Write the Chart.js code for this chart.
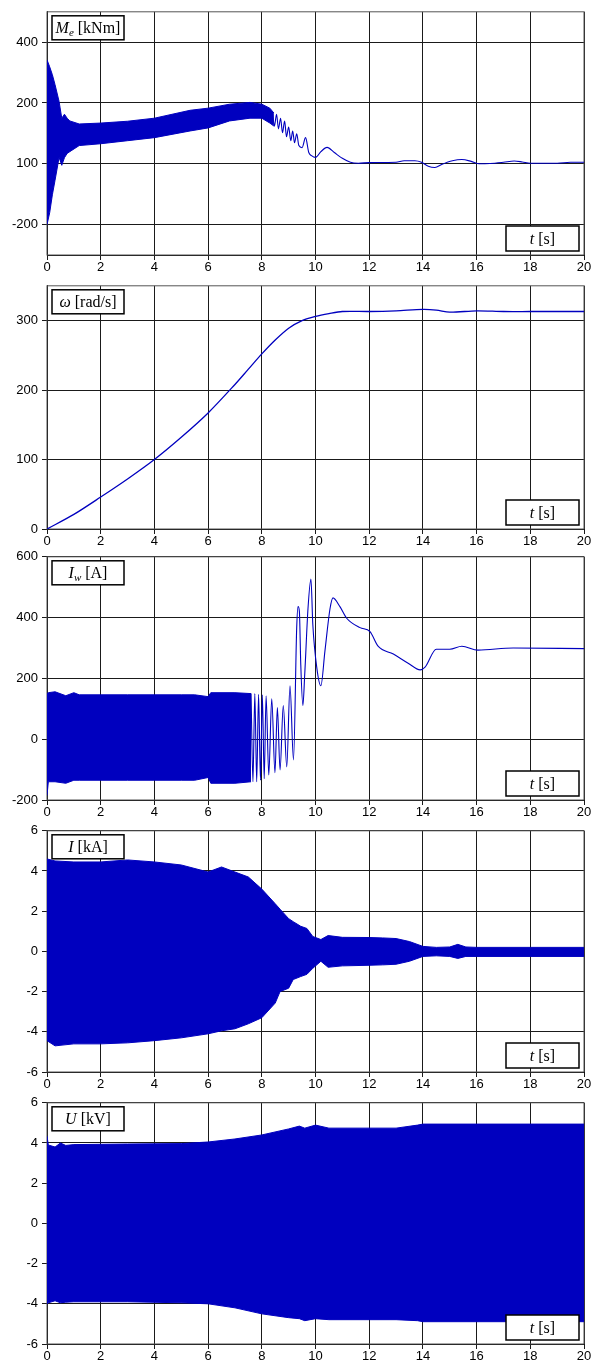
<!DOCTYPE html>
<html><head><meta charset="utf-8">
<script src="https://cdn.jsdelivr.net/npm/chart.js@4.4.1/dist/chart.umd.min.js"></script>
<style>
html,body{margin:0;padding:0;background:#fff;overflow:hidden;width:595px;height:1363px}
#wrap{position:relative;width:595px;height:1363px}
canvas{position:absolute;left:0}
</style></head><body><div id="wrap"></div>
<script>
// ---------- DATA ----------
const timeTicks = [0,2,4,6,8,10,12,14,16,18,20];

// Panel 1: electromagnetic torque Me (axis units as drawn)
const meTickValues = [-200, 0, 200, 400];
const meTickLabels = ['-200', '100', '200', '400'];
const meBandT     = [0, 0.1, 0.2, 0.3, 0.45, 0.55, 0.65, 0.75, 0.85, 1.2, 2, 3, 4, 5.33, 6, 6.8, 7.56, 8.0, 8.3, 8.45];
const meBandUpper = [342, 319, 293, 260, 205, 150, 163, 150, 141, 131, 134, 140, 150, 176, 183, 196, 202, 196, 183, 167];
const meBandLower = [-200, -161, -102, -54, 21, -5, 20, 34, 40, 60, 66, 76, 86, 108, 118, 141, 150, 150, 134, 124];
const meTraceT = [8.40, 8.47, 8.55, 8.62, 8.70, 8.77, 8.85, 8.92, 9.0, 9.08, 9.15, 9.22, 9.3, 9.38, 9.5, 9.63, 9.75, 9.85, 10.0, 10.2, 10.43, 10.7, 11.0, 11.3, 11.6, 12, 13.0, 13.3, 13.7, 13.95, 14.2, 14.45, 14.7, 15.1, 15.45, 15.8, 16.1, 16.5, 17.0, 17.4, 17.7, 18.0, 19.0, 19.5, 20];
const meTraceV = [167, 124, 163, 115, 150, 102, 141, 89, 121, 76, 108, 69, 99, 60, 53, 86, 37, 27, 21, 40, 54, 37, 18, 5, 2, 4, 5, 10, 10, 5, -8, -12, -2, 10, 14, 8, 0, 1, 5, 9, 6, 2, 2, 5, 5];

// Panel 2: angular speed omega [rad/s]
const omegaTickValues = [0, 100, 200, 300];
const omegaT = [0, 1, 2, 3, 4, 5, 6, 7, 7.5, 8, 8.5, 9, 9.5, 10, 10.5, 11, 12, 13, 14, 14.5, 15, 16, 17, 18, 19, 20];
const omegaV = [0, 21, 46, 72, 100, 132, 167, 208, 230, 252, 272, 289, 300, 306, 310, 313, 313, 314, 316, 315, 312, 314, 313, 313, 313, 313];

// Panel 3: excitation current Iw [A]
const iwTickValues = [-200, 0, 200, 400, 600];
const iwBandT     = [0, 0.05, 0.3, 0.7, 1.0, 1.2, 2, 3, 4, 5, 5.5, 6, 6.1, 7, 7.6];
const iwBandUpper = [150, 153, 156, 143, 153, 146, 146, 146, 146, 146, 146, 140, 153, 153, 150];
const iwBandLower = [-185, -140, -140, -145, -135, -135, -135, -135, -135, -135, -135, -126, -145, -145, -140];
const iwTraceT = [7.6, 7.67, 7.74, 7.81, 7.88, 7.95, 8.02, 8.09, 8.16, 8.26, 8.37, 8.49, 8.58, 8.68, 8.8, 8.93, 9.05, 9.18, 9.3, 9.35, 9.4, 9.45, 9.53, 9.6, 9.72, 9.83, 9.9, 10.05, 10.2, 10.35, 10.54, 10.65, 10.91, 11.17, 11.66, 12.03, 12.33, 12.9, 13.45, 13.9, 14.08, 14.5, 15, 15.45, 16.05, 17.36, 20];
const iwTraceV = [150, -140, 150, -140, 148, -135, 146, -130, 143, -118, 133, -110, 104, -101, 111, -91, 176, -68, 367, 436, 420, 250, 111, 215, 429, 527, 377, 234, 176, 289, 429, 465, 436, 397, 367, 354, 306, 280, 250, 228, 237, 296, 296, 306, 293, 300, 298];

// Panel 4: stator current I [kA]
const kTickValues = [-6, -4, -2, 0, 2, 4, 6];
const iBandT     = [0, 0.3, 1, 2, 3, 4, 5, 6, 6.5, 7, 7.5, 8, 8.5, 8.68, 9, 9.17, 9.45, 9.68, 9.9, 10.2, 10.47, 11, 12, 12.5, 13, 13.5, 14, 14.5, 15, 15.3, 15.6, 16, 18, 20];
const iBandUpper = [4.6, 4.5, 4.45, 4.45, 4.55, 4.45, 4.3, 3.95, 4.2, 3.95, 3.7, 3.1, 2.37, 2.1, 1.63, 1.48, 1.25, 1.14, 0.74, 0.59, 0.79, 0.7, 0.69, 0.67, 0.64, 0.49, 0.25, 0.2, 0.22, 0.35, 0.22, 0.2, 0.2, 0.2];
const iBandLower = [-4.44, -4.7, -4.6, -4.6, -4.55, -4.44, -4.3, -4.1, -3.95, -3.85, -3.6, -3.3, -2.57, -2.0, -1.83, -1.4, -1.25, -1.14, -0.84, -0.49, -0.79, -0.72, -0.69, -0.67, -0.64, -0.49, -0.25, -0.22, -0.25, -0.35, -0.25, -0.25, -0.25, -0.25];

// Panel 5: stator voltage U [kV]
const uBandT     = [0, 0.05, 0.3, 0.5, 0.7, 1, 3, 5, 6, 7, 8, 9, 9.4, 9.6, 10, 10.5, 13, 13.8, 14, 20];
const uBandUpper = [4.35, 3.9, 3.8, 4.0, 3.88, 3.92, 3.95, 3.97, 4.05, 4.2, 4.4, 4.7, 4.84, 4.74, 4.89, 4.74, 4.74, 4.89, 4.94, 4.94];
const uBandLower = [-4.0, -3.95, -3.85, -3.95, -3.92, -3.9, -3.9, -3.95, -4.0, -4.2, -4.5, -4.69, -4.74, -4.84, -4.74, -4.79, -4.79, -4.84, -4.89, -4.89];

// ---------- RENDERING ----------
const BLUE = '#0000BF';
const GRID = '#1a1a1a';
function pts(ts, vs){ return ts.map((t,i)=>({x:t, y:vs[i]})); }
function band(ts, up, lo){
  return [
    {data: pts(ts, up), borderColor: BLUE, borderWidth: 1, pointRadius: 0, fill: false, tension: 0},
    {data: pts(ts, lo), borderColor: BLUE, borderWidth: 1, pointRadius: 0, fill: '-1', backgroundColor: BLUE, tension: 0}
  ];
}
function trace(ts, vs, w, smooth){
  const d = {data: pts(ts, vs), borderColor: BLUE, borderWidth: w || 1.2, pointRadius: 0, fill: false};
  if (smooth) d.tension = 0.3; else d.cubicInterpolationMode = 'monotone';
  return d;
}

const framePlugin = {
  id: 'frameBoxes',
  beforeDatasetsDraw(chart){
    const {ctx, chartArea: a} = chart;
    ctx.save();
    ctx.strokeStyle = '#555';
    ctx.lineWidth = 1;
    ctx.strokeRect(a.left, a.top, a.right - a.left, a.bottom - a.top);
    ctx.restore();
  },
  afterDraw(chart, args, opts){
    const {ctx, chartArea: a} = chart;
    drawBox(ctx, a.left + 5, a.top + 4, 72, 24, opts.parts);
    drawBox(ctx, a.right - 78, a.bottom - 29, 73, 25, [{t:'t', i:1}, {t:' [s]'}]);
  }
};
function fontFor(p){ return (p.i ? 'italic ' : '') + (p.s ? '11px' : '16px') + ' "Liberation Serif", "Times New Roman", serif'; }
function drawBox(ctx, x, y, w, h, parts){
  ctx.save();
  ctx.fillStyle = '#fff';
  ctx.fillRect(x, y, w, h);
  ctx.strokeStyle = '#000';
  ctx.lineWidth = 1.5;
  ctx.strokeRect(x, y, w, h);
  let total = 0;
  parts.forEach(p => { ctx.font = fontFor(p); total += ctx.measureText(p.t).width; });
  let cx = x + (w - total) / 2;
  const base = y + h / 2 + 5;
  ctx.fillStyle = '#000';
  ctx.textBaseline = 'alphabetic';
  parts.forEach(p => {
    ctx.font = fontFor(p);
    ctx.fillText(p.t, cx, base + (p.s ? 3 : 0));
    cx += ctx.measureText(p.t).width;
  });
  ctx.restore();
}

const panels = [
  {top: 0,    h: 280, min: -300, max: 500, ticks: meTickValues, labels: meTickLabels,
   datasets: [...band(meBandT, meBandUpper, meBandLower), trace(meTraceT, meTraceV, 1.1)],
   parts: [{t:'M', i:1}, {t:'e', i:1, s:1}, {t:' [kNm]'}]},
  {top: 274,  h: 280, min: 0, max: 350, ticks: omegaTickValues,
   datasets: [trace(omegaT, omegaV, 1.3, true)],
   parts: [{t:'ω', i:1}, {t:' [rad/s]'}]},
  {top: 545,  h: 280, min: -200, max: 600, ticks: iwTickValues,
   datasets: [...band(iwBandT, iwBandUpper, iwBandLower), trace(iwTraceT, iwTraceV, 1.1)],
   parts: [{t:'I', i:1}, {t:'w', i:1, s:1}, {t:' [A]'}]},
  {top: 819,  h: 278, min: -6, max: 6, ticks: kTickValues,
   datasets: band(iBandT, iBandUpper, iBandLower),
   parts: [{t:'I', i:1}, {t:' [kA]'}]},
  {top: 1091, h: 278, min: -6, max: 6, ticks: kTickValues,
   datasets: band(uBandT, uBandUpper, uBandLower),
   parts: [{t:'U', i:1}, {t:' [kV]'}]}
];

const wrap = document.getElementById('wrap');
const tickFont = {family: '"Liberation Sans", Arial, sans-serif', size: 13};
panels.forEach(p => {
  const c = document.createElement('canvas');
  c.width = 595; c.height = p.h;
  c.style.top = p.top + 'px';
  c.style.width = '595px'; c.style.height = p.h + 'px';
  wrap.appendChild(c);
  new Chart(c, {
    type: 'line',
    data: {datasets: p.datasets},
    options: {
      responsive: false, animation: false, devicePixelRatio: 1,
      layout: {padding: {top: 10, right: 11, left: 0, bottom: 0}},
      plugins: {legend: {display: false}, tooltip: {enabled: false}, frameBoxes: {parts: p.parts}},
      scales: {
        x: {type: 'linear', min: 0, max: 20,
            afterBuildTicks: s => { s.ticks = timeTicks.map(v => ({value: v})); },
            afterFit: s => { s.height = 25; },
            ticks: {color: '#000', font: tickFont, padding: 0, maxRotation: 0, autoSkip: false},
            grid: {color: GRID, lineWidth: 1, tickLength: 5},
            border: {color: '#000', width: 1}},
        y: {type: 'linear', min: p.min, max: p.max,
            afterBuildTicks: s => { s.ticks = p.ticks.map(v => ({value: v})); },
            afterFit: s => { s.width = 47; },
            ticks: {color: '#000', font: tickFont, padding: 4, autoSkip: false,
                    callback: (v, i) => p.labels ? p.labels[i] : String(v)},
            grid: {color: GRID, lineWidth: 1, tickLength: 5},
            border: {color: '#000', width: 1}}
      }
    },
    plugins: [framePlugin]
  });
});
</script>
</body></html>
